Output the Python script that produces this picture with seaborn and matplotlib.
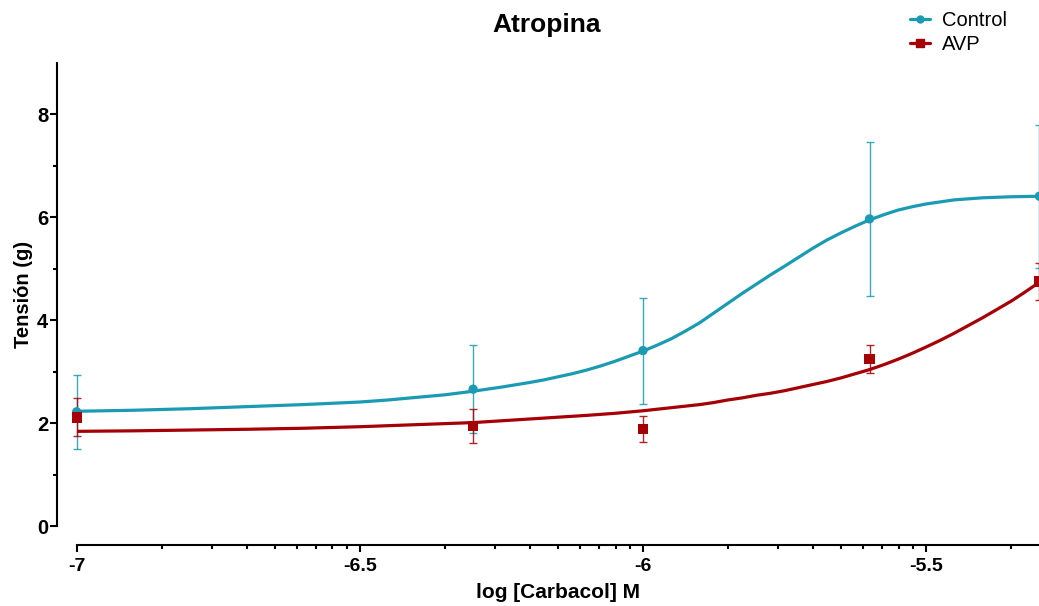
import numpy as np
import pandas as pd
import matplotlib
matplotlib.use("Agg")
import matplotlib.pyplot as plt
from matplotlib.lines import Line2D
import seaborn as sns

# datos: log [Carbacol] M vs tension (g), media y SEM
log_carbacol = [-7.0, -6.3, -6.0, -5.6, -5.3]
control_media = [2.22, 2.66, 3.41, 5.97, 6.41]
control_sem = [0.72, 0.86, 1.03, 1.49, 1.39]
avp_media = [2.11, 1.94, 1.88, 3.25, 4.75]
avp_sem = [0.37, 0.33, 0.25, 0.27, 0.36]

# curva de ajuste Control
ctrl_x = [-7.00, -6.90, -6.80, -6.70, -6.60, -6.50, -6.45, -6.40, -6.35, -6.30,
          -6.25, -6.200, -6.175, -6.150, -6.125, -6.100, -6.075, -6.050, -6.025,
          -6.000, -5.975, -5.950, -5.925, -5.900, -5.875, -5.850, -5.825, -5.800,
          -5.775, -5.750, -5.725, -5.700, -5.675, -5.650, -5.625, -5.600, -5.575,
          -5.550, -5.525, -5.500, -5.475, -5.450, -5.425, -5.400, -5.35, -5.30]
ctrl_y = [2.23, 2.25, 2.28, 2.32, 2.36, 2.41, 2.45, 2.50, 2.55, 2.62,
          2.70, 2.79, 2.84, 2.90, 2.96, 3.03, 3.11, 3.20, 3.30,
          3.40, 3.515, 3.64, 3.79, 3.95, 4.14, 4.33, 4.52, 4.70,
          4.88, 5.05, 5.225, 5.40, 5.56, 5.70, 5.83, 5.95, 6.05,
          6.14, 6.205, 6.26, 6.30, 6.34, 6.36, 6.38, 6.40, 6.41]

# curva de ajuste AVP
avp_x = [-7.00, -6.90, -6.80, -6.70, -6.60, -6.50, -6.40, -6.30, -6.20, -6.10,
         -6.05, -6.00, -5.95, -5.900, -5.875, -5.850, -5.825, -5.800, -5.775,
         -5.750, -5.725, -5.700, -5.675, -5.650, -5.625, -5.600, -5.575, -5.550,
         -5.525, -5.500, -5.475, -5.450, -5.425, -5.400, -5.375, -5.350, -5.325,
         -5.300]
avp_y = [1.84, 1.85, 1.865, 1.88, 1.90, 1.93, 1.97, 2.01, 2.08, 2.15,
         2.19, 2.24, 2.30, 2.36, 2.40, 2.45, 2.49, 2.54, 2.58,
         2.63, 2.69, 2.75, 2.81, 2.88, 2.96, 3.04, 3.135, 3.24,
         3.355, 3.48, 3.61, 3.75, 3.90, 4.05, 4.21, 4.37, 4.55,
         4.74]

color_control = "#1a9bb2"
color_avp = "#a50006"

sns.set_style("ticks")
plt.rcParams["font.family"] = ["Liberation Sans", "DejaVu Sans"]
plt.rcParams["text.color"] = "black"
plt.rcParams["axes.labelcolor"] = "black"
plt.rcParams["xtick.color"] = "black"
plt.rcParams["ytick.color"] = "black"

fig = plt.figure(figsize=(10.39, 6.06), dpi=100)
ax = fig.add_axes([76.7 / 1039, 80 / 606, (1039 - 76.7) / 1039, 463 / 606])

df_curvas = pd.DataFrame({
    "x": ctrl_x + avp_x,
    "y": ctrl_y + avp_y,
    "grupo": ["Control"] * len(ctrl_x) + ["AVP"] * len(avp_x),
})
sns.lineplot(data=df_curvas, x="x", y="y", hue="grupo",
             palette={"Control": color_control, "AVP": color_avp},
             linewidth=2.3, legend=False, ax=ax, zorder=3)

# barras de error
ax.errorbar(log_carbacol, control_media, yerr=control_sem, fmt="none",
            ecolor=color_control, elinewidth=1.0, capsize=3, capthick=1.0,
            alpha=0.85, zorder=2, clip_on=False)
ax.errorbar(log_carbacol, avp_media, yerr=avp_sem, fmt="none",
            ecolor=color_avp, elinewidth=1.0, capsize=3, capthick=1.0,
            alpha=0.85, zorder=4, clip_on=False)

sns.scatterplot(x=log_carbacol, y=control_media, color=color_control, marker="o",
                s=45, edgecolor="none", ax=ax, zorder=5, clip_on=False)
sns.scatterplot(x=log_carbacol, y=avp_media, color=color_avp, marker="s",
                s=55, edgecolor="none", ax=ax, zorder=6, clip_on=False)

xmax = -7 + (1039 - 76.7) / 566.3
ax.set_xlim(-7, xmax)
ax.set_ylim(0, 9)

# ejes separados estilo prism
ax.spines["right"].set_visible(False)
ax.spines["top"].set_visible(False)
ax.spines["left"].set_position(("outward", 14))
ax.spines["bottom"].set_position(("outward", 14))
ax.spines["left"].set_bounds(0, 9)
ax.spines["bottom"].set_bounds(-7, xmax)
for s in ["left", "bottom"]:
    ax.spines[s].set_linewidth(1.5)
    ax.spines[s].set_color("black")

ax.set_xticks([-7, -6.5, -6, -5.5])
ax.set_xticklabels(["-7", "-6.5", "-6", "-5.5"])
minor_x = [b + 0.5 * np.log10(k) for b in [-7, -6.5, -6, -5.5] for k in range(2, 10)]
ax.set_xticks([m for m in minor_x if m < xmax], minor=True)
ax.set_yticks([0, 2, 4, 6, 8])
ax.set_yticks([1, 3, 5, 7], minor=True)
ax.tick_params(axis="both", which="major", length=5, width=1.5, color="black",
               labelsize=14, labelcolor="black")
ax.tick_params(axis="y", which="major", pad=1.5, labelsize=14.5)
ax.tick_params(axis="x", which="major", pad=4)
ax.tick_params(axis="both", which="minor", length=3, width=1.5, color="black")
for lab in ax.get_xticklabels() + ax.get_yticklabels():
    lab.set_fontweight("bold")

ax.set_xlabel("log [Carbacol] M", fontsize=15, fontweight="bold", labelpad=6)
ax.set_ylabel("Tensión (g)", fontsize=14.5, fontweight="bold", labelpad=3)

fig.text(547 / 1039, 1 - 25 / 606, "Atropina", ha="center", va="center",
         fontsize=19, fontweight="bold")

handles = [
    Line2D([], [], color=color_control, linewidth=2.3, marker="o", markersize=5),
    Line2D([], [], color=color_avp, linewidth=2.3, marker="s", markersize=5.5),
]
fig.legend(handles, ["Control", "AVP"], loc="upper right",
           bbox_to_anchor=(1007 / 1039, 1 - 11 / 606), frameon=False,
           fontsize=14.5, handlelength=1.0, handletextpad=0.6,
           labelspacing=0.25, borderpad=0, borderaxespad=0)

fig.savefig("out.png", dpi=100)
